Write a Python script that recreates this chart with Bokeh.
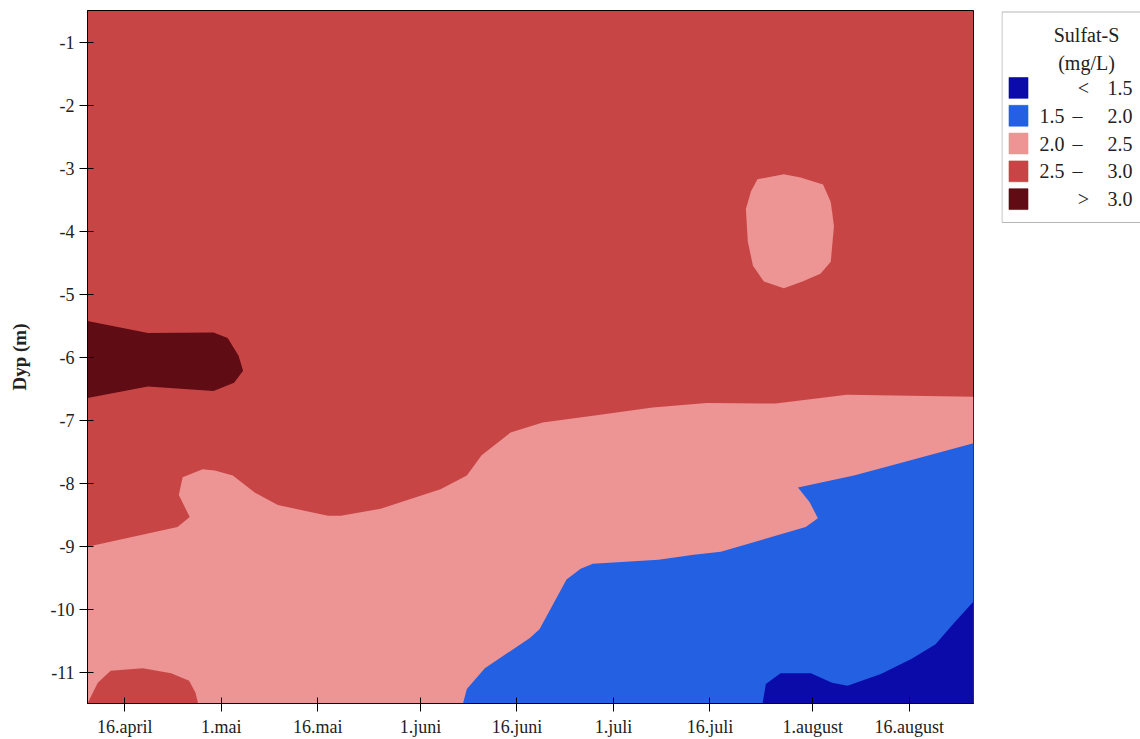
from bokeh.plotting import figure
from bokeh.models import Range1d, FixedTicker
from bokeh.layouts import row
from bokeh.embed import file_html
from bokeh.resources import INLINE
from bokeh.core.properties import value

# ---------------- data ----------------
# x axis: day of year (2019), ticks with Norwegian date labels
tick_days = [106, 121, 136, 152, 167, 182, 197, 213, 228]
tick_labels = ["16.april", "1.mai", "16.mai", "1.juni", "16.juni",
               "1.juli", "16.juli", "1.august", "16.august"]
depth_ticks = [-1, -2, -3, -4, -5, -6, -7, -8, -9, -10, -11]
depth_labels = ["-1", "-2", "-3", "-4", "-5", "-6", "-7", "-8", "-9", "-10", "-11"]

day_start, day_end = 100.2, 238.0
depth_top, depth_bottom = -0.5, -11.5

# class colours (Sulfat-S, mg/L)
class_labels_low = ["", "1.5", "2.0", "2.5", ""]
class_ops = ["<", "\u2013", "\u2013", "\u2013", ">"]
class_labels_high = ["1.5", "2.0", "2.5", "3.0", "3.0"]
class_colors = ["#0B0BAA", "#2460E2", "#EC9594", "#C84545", "#600C14"]

# upper boundary of the 2.0-2.5 zone (below: < 2.5)
pink_day = [100.2, 114.2, 116.1, 114.4, 115.0, 118.1, 120.0, 122.8, 126.2, 129.8,
            137.6, 139.6, 145.8, 155.1, 159.2, 161.5, 166.0, 171.0, 179.1, 188.1,
            196.5, 207.2, 218.3, 238.0]
pink_depth = [-9.01, -8.70, -8.54, -8.19, -7.91, -7.78, -7.80, -7.88, -8.15, -8.35,
              -8.52, -8.52, -8.41, -8.10, -7.88, -7.56, -7.20, -7.04, -6.93, -6.80,
              -6.73, -6.74, -6.60, -6.63]

# boundary of the 1.5-2.0 zone
blue_day = [158.6, 159.2, 162.0, 169.0, 170.5, 174.7, 176.9, 178.8, 189.0, 194.5,
            198.7, 211.9, 213.8, 212.5, 210.7, 219.4, 224.2, 238.0]
blue_depth = [-11.5, -11.27, -10.94, -10.46, -10.32, -9.53, -9.36, -9.28, -9.22, -9.14,
              -9.09, -8.70, -8.56, -8.30, -8.07, -7.88, -7.75, -7.37]

# boundary of the < 1.5 zone
dblue_day = [205.2, 205.7, 208.0, 212.7, 216.0, 218.4, 223.6, 228.4, 232.1, 234.9, 238.0]
dblue_depth = [-11.5, -11.19, -11.02, -11.02, -11.17, -11.22, -11.03, -10.79, -10.56,
               -10.23, -9.88]

# > 3.0 zone
dred_day = [100.2, 109.6, 119.8, 122.0, 123.7, 124.4, 123.0, 119.8, 109.6, 100.2]
dred_depth = [-5.43, -5.62, -5.61, -5.70, -5.98, -6.22, -6.41, -6.54, -6.47, -6.65]

# 2.0-2.5 island (late July, 3-5 m)
island_day = [204.4, 208.5, 211.1, 214.6, 215.8, 216.3, 215.8, 214.2, 211.4, 208.5,
              205.4, 203.7, 202.9, 202.6, 203.4]
island_depth = [-3.18, -3.10, -3.15, -3.26, -3.54, -3.92, -4.49, -4.68, -4.80, -4.91,
                -4.80, -4.55, -4.17, -3.65, -3.37]

# 2.5-3.0 patch near bottom in April
blob_day = [100.2, 101.8, 103.8, 108.8, 113.2, 116.0, 117.0, 117.4]
blob_depth = [-11.5, -11.17, -10.98, -10.94, -11.02, -11.14, -11.33, -11.5]

FONT = "Liberation Serif"
H = 739
TOP, BOTTOM = 10, 31

# ---------------- main plot ----------------
p = figure(width=1001, height=H, output_backend="svg", toolbar_location=None,
           x_range=Range1d(day_start, day_end), y_range=Range1d(depth_bottom, depth_top),
           min_border_left=87, min_border_right=28, min_border_top=TOP,
           min_border_bottom=BOTTOM)
p.background_fill_color = class_colors[3]
p.border_fill_color = "white"
p.outline_line_color = "black"
p.outline_line_width = 1
p.xgrid.grid_line_color = None
p.ygrid.grid_line_color = None

# 2.0 - 2.5
p.patch(pink_day + [day_end, day_start], pink_depth + [depth_bottom, depth_bottom],
        fill_color=class_colors[2], line_color=None)
# 1.5 - 2.0
p.patch(blue_day + [day_end], blue_depth + [depth_bottom],
        fill_color=class_colors[1], line_color=None)
# < 1.5
p.patch(dblue_day + [day_end], dblue_depth + [depth_bottom],
        fill_color=class_colors[0], line_color=None)
# > 3.0
p.patch(dred_day, dred_depth, fill_color=class_colors[4], line_color=None)
# island 2.0 - 2.5
p.patch(island_day, island_depth, fill_color=class_colors[2], line_color=None)
# 2.5 - 3.0 blob
p.patch(blob_day, blob_depth, fill_color=class_colors[3], line_color=None)

p.xaxis.ticker = FixedTicker(ticks=tick_days)
p.xaxis.major_label_overrides = {d: l for d, l in zip(tick_days, tick_labels)}
p.yaxis.ticker = FixedTicker(ticks=depth_ticks)
p.yaxis.major_label_overrides = {d: l for d, l in zip(depth_ticks, depth_labels)}

for ax in (p.xaxis[0], p.yaxis[0]):
    ax.axis_line_color = "black"
    ax.major_tick_line_color = "black"
    ax.major_tick_in = 6
    ax.major_tick_out = 8
    ax.minor_tick_line_color = None
    ax.major_label_text_font = FONT
    ax.major_label_text_font_size = "18px"
    ax.major_label_text_color = "#222222"
    ax.major_label_standoff = 5

p.yaxis.axis_label = "Dyp (m)"
p.yaxis.axis_label_text_font = FONT
p.yaxis.axis_label_text_font_style = "bold"
p.yaxis.axis_label_text_font_size = "19px"
p.yaxis.axis_label_text_color = "#222222"
p.yaxis.axis_label_standoff = 18

# ---------------- legend panel (coordinates = page pixels) ----------------
LX0, LX1 = 1001, 1140
LFS = "20px"
leg = figure(width=LX1 - LX0, height=H, output_backend="svg", toolbar_location=None,
             x_range=Range1d(LX0, LX1), y_range=Range1d(H - BOTTOM, TOP),
             x_axis_type=None, y_axis_type=None,
             min_border_left=0, min_border_right=0,
             min_border_top=TOP, min_border_bottom=BOTTOM)
leg.outline_line_color = None
leg.xgrid.grid_line_color = None
leg.ygrid.grid_line_color = None
leg.background_fill_color = "white"
leg.border_fill_color = "white"

leg.quad(left=LX0 + 0.5, right=LX1 + 40, top=11.5, bottom=223.5, fill_color="white",
         line_color="#b5b5b5", line_width=1)
leg.text(x=[LX0 + 85, LX0 + 85], y=[35, 63], text=["Sulfat-S", "(mg/L)"],
         text_font=value(FONT), text_font_size=value(LFS), text_color="#222222",
         text_align="center", text_baseline="middle")

row_y = [88 + 28 * i for i in range(len(class_colors))]
leg.rect(x=[LX0 + 17] * len(row_y), y=row_y, width=19, height=21,
         fill_color=class_colors, line_color=class_colors, line_alpha=0.6)
op_x = [LX0 + (82 if o in "<>" else 76) for o in class_ops]
leg.text(x=[LX0 + 38] * len(row_y), y=row_y, text=class_labels_low,
         text_font=value(FONT), text_font_size=value(LFS), text_color="#222222",
         text_align="left", text_baseline="middle")
leg.text(x=op_x, y=row_y, text=class_ops,
         text_font=value(FONT), text_font_size=value(LFS), text_color="#222222",
         text_align="center", text_baseline="middle")
leg.text(x=[LX0 + 131] * len(row_y), y=row_y, text=class_labels_high,
         text_font=value(FONT), text_font_size=value(LFS), text_color="#222222",
         text_align="right", text_baseline="middle")

layout = row(p, leg)
open("out.html", "w").write(file_html(layout, INLINE))
